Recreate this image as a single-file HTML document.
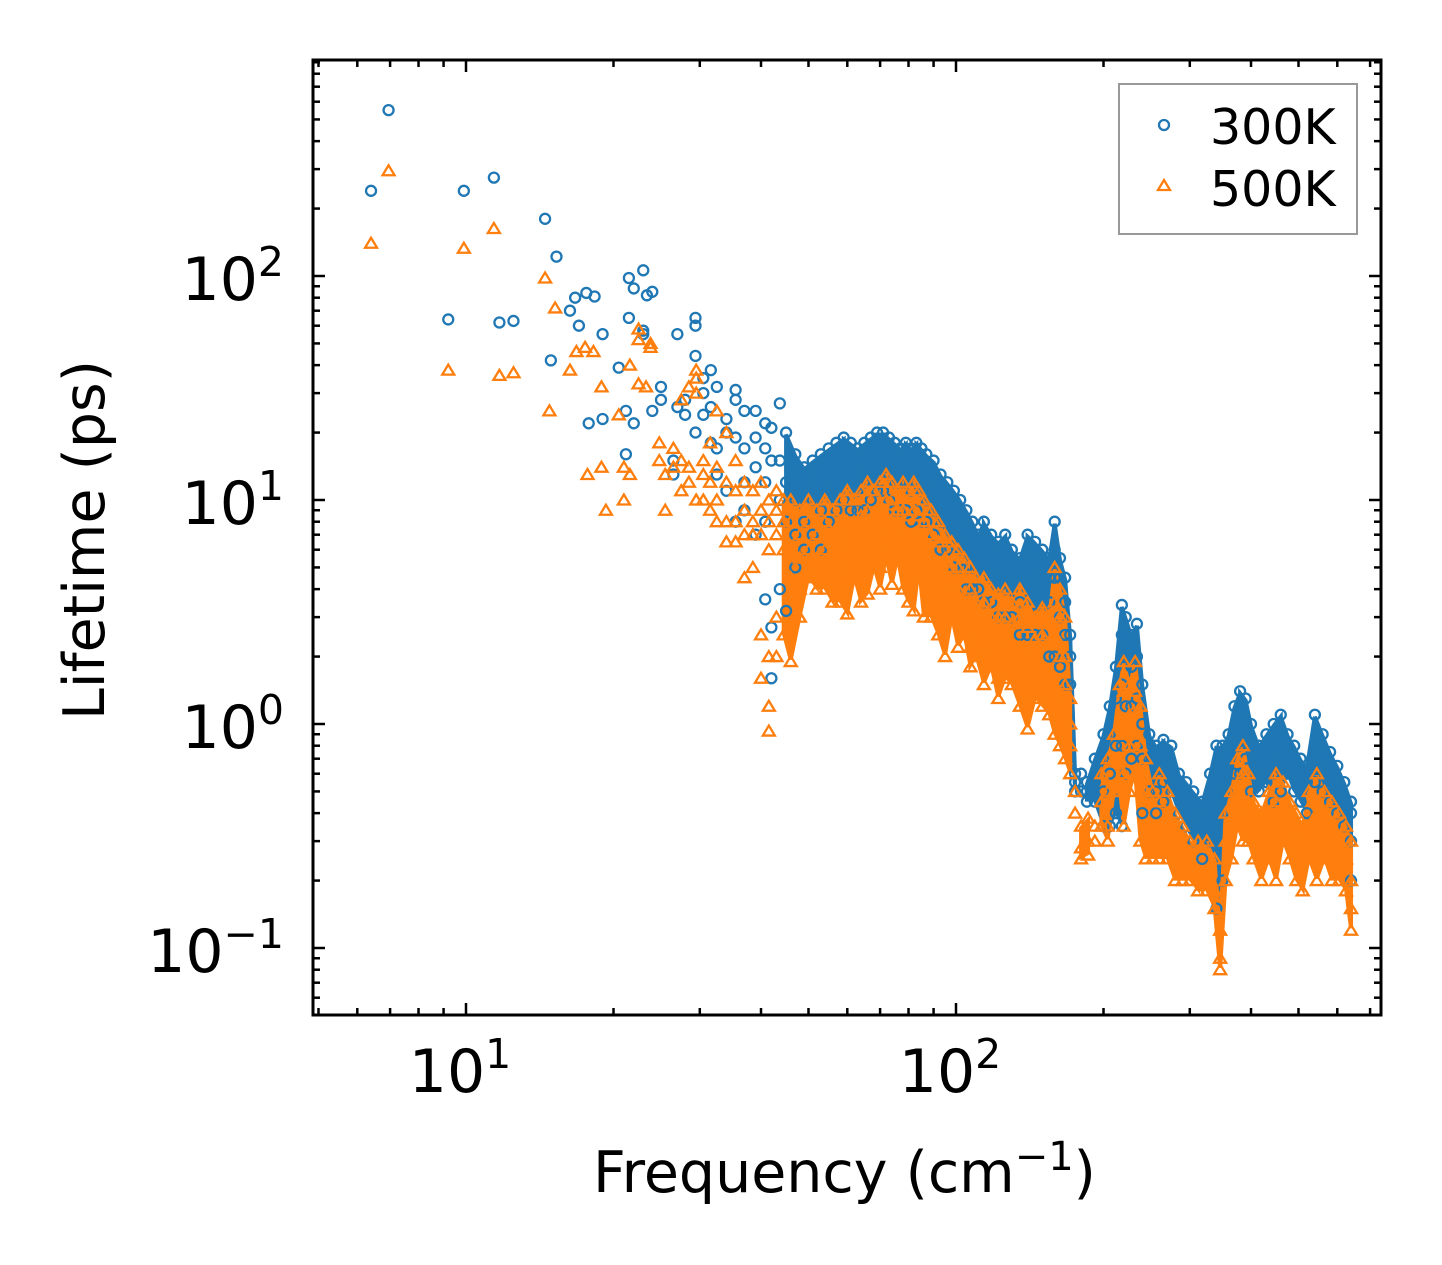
<!DOCTYPE html>
<html><head><meta charset="utf-8"><style>
body{margin:0;background:#fff}
svg{display:block}
text{font-family:"DejaVu Sans","Liberation Sans",sans-serif;fill:#000}
</style></head><body>
<svg id="chart" width="1442" height="1265" viewBox="0 0 1442 1265" xmlns="http://www.w3.org/2000/svg">
<rect width="1442" height="1265" fill="#fff"/>
<g id="bands"></g>
<g id="marks"></g>
<g id="axes"></g>
<g id="legend">
<rect x="1119" y="84" width="238" height="150" fill="#fff" stroke="#999" stroke-width="2"/>
<circle cx="1164" cy="125" r="5" fill="none" stroke="#1f77b4" stroke-width="2.3"/>
<text x="1210" y="144" font-size="49">300K</text>
<path d="M1158 190 L1170 190 L1164 180 Z" fill="none" stroke="#ff7f0e" stroke-width="2.3"/>
<text x="1210" y="206" font-size="49">500K</text>
</g>
<text x="593" y="1192" font-size="57">Frequency (cm<tspan dy="-22" font-size="40">−1</tspan><tspan dy="22">)</tspan></text>
<text transform="translate(104,540) rotate(-90)" font-size="57" text-anchor="middle">Lifetime (ps)</text>
</svg>
<script>
const xTickValues = [10, 100];
const xTickExps = ["1", "2"];
const yTickValues = [0.1, 1, 10, 100];
const yTickExps = ["−1", "0", "1", "2"];

const freq300 = [6.4,6.95,9.2,9.9,11.4,11.7,12.5,14.5,14.9,15.3,16.3,16.7,17,17.6,17.8,18.3,19,20.5,21.2,21.5,22,23,23.4,24,25,26.5,27,28,29.4,30.5,31.6,32.5,34,35.5,37,39,40.8,42,43.7,45,47,49,51,53,55,57,59,61,63,65,67,69,71,73,75,77,79,81,83,85,87,90,93,96,99,102,105,108,111,114,118,122,126,130,135,140,145,150,155,159,163,167,171,175,180,185,192,200,206,212,218,222,228,234,240,248,256,265,275,285,295,305,318,330,340,350,360,370,380,390,400,415,430,445,460,475,490,505,520,540,560,580,600,620,640];
const life300 = [[240],[550],[64],[240],[275],[62],[63],[180],[42],[122],[70],[80],[60],[84],[22],[81],[23,55],[39],[16,25],[98,65],[22,88],[106,57,55],[82],[85,25],[28,32],[13,15],[55,26],[28,24],[60,65,44,20],[30,35,24],[26,38,18],[32,17,13],[20,23,11],[31,19,28,8],[12,17,25,9],[25,19,14,7],[17,22,12,8,3.6],[2.7,1.6,21,15],[15,27,10,4],[3.2,20,12,8],[12,16,10,7,5],[14,11,8,6],[15,12,10,7],[16,13,9,6],[17,14,11,8],[18,15,12,9],[19,16,13,10],[18,15,12,9],[17,14,11,9],[18,15,12,9],[19,16,13,10],[20,17,14,11],[20,17,14,11],[19,16,13,10],[18,15,12,9],[17,14,12,9],[18,15,12,9],[17,14,11,8],[18,15,12,9],[17,14,11,8],[16,13,10,8],[15,12,9,7],[13,11,8,6],[12,10,8,6],[11,9,7,5],[10,8,6,5],[9,7,5,4],[8,6,5,4],[7,6,5,4],[8,6,5,3.5],[7,6,4.5,3.5],[6.5,5.5,4.5,3],[7,5.5,4,3],[6,5,4,3],[5.5,4.5,3.5,2.5],[7,5,4,2.5],[6.5,5,3.5,2.5],[6,5,4,2.5],[5.5,4.5,3.5,2],[8,6,4.5,2],[5.5,4.5,3,1.8],[4.5,3.5,2.5,1.5],[2.5,2,1.5],[0.6,0.55,0.5],[0.6,0.5],[0.55,0.5,0.45],[0.7,0.55,0.45],[0.9,0.7,0.5,0.35],[1.2,0.9,0.6,0.35],[1.8,1.3,0.8,0.4],[3.4,2.5,1.5,0.8,0.35],[3,2,1.2,0.6],[2.5,1.8,1.2,0.7],[2.8,2,1.3,0.8],[1.5,1,0.7,0.4],[0.9,0.7,0.5],[0.8,0.65,0.5,0.4],[0.85,0.7,0.55,0.45],[0.8,0.65,0.5],[0.6,0.5,0.4],[0.55,0.45,0.35],[0.5,0.4,0.3],[0.45,0.35,0.25],[0.6,0.45,0.3],[0.8,0.6,0.3,0.15],[0.8,0.6,0.4,0.2],[0.9,0.7,0.5],[1.2,0.9,0.6],[1.4,1.1,0.8,0.6],[1.3,1,0.7],[1,0.8,0.6,0.5],[0.8,0.65,0.5],[0.9,0.7,0.55],[1,0.8,0.6,0.45],[1.1,0.85,0.65,0.5],[0.9,0.75,0.6],[0.8,0.65,0.5],[0.7,0.6,0.45],[0.65,0.55,0.4],[1.1,0.7,0.55],[0.9,0.7,0.5],[0.75,0.6,0.45],[0.65,0.5,0.4],[0.55,0.45,0.35],[0.45,0.4,0.3,0.2]];

const freq500 = [6.4,6.95,9.2,9.9,11.4,11.7,12.5,14.5,14.8,15.2,16.3,16.8,17.5,17.7,18.2,18.9,19.3,20.5,21,21.6,22.5,23.3,23.8,24.8,25.5,26.5,27.5,28.5,29.5,30.5,31.5,32.5,34,35.5,37,38.5,40,41.5,43,44.5,46,48,50,52,54,56,58,60,62,64,66,68,70,72,74,76,78,80,82,84,86,89,92,95,98,101,104,107,110,114,118,122,126,130,135,140,145,150,155,159,163,167,171,175,180,186,192,198,204,210,216,220,226,232,238,244,252,260,270,280,290,300,312,325,337,346,355,365,375,385,395,405,420,435,450,465,480,495,510,525,545,565,585,605,625,640];
const life500 = [[140],[295],[38],[133],[163],[36],[37],[98],[25],[72],[38],[46],[48],[13],[46],[14,32],[9],[24],[10,14],[40,13],[33,58,52],[32],[50,48],[15,18],[9,13],[14,17],[28,15,11],[32,14,12],[38,35,30,10],[15,13,10],[18,12,9],[25,14,10,8],[20,12,8,6.5],[15,11,8,6.5],[12,9,7,4.5],[11,8,7,5],[12,9,7,2.5,1.6],[10,8,6,2,1.2,0.93],[11,9,7,3,2],[10,8,6,2.5],[10,8,6,4.5,1.9],[9,7,5.5,4,3],[10,8,6,4.5],[9,7,5.5,4],[10,8,6,4],[9,7,5.5,4.5,3.5],[10,8,6,4.5,3.5],[11,8,6,4.5,3.1],[10,8,6,4.5],[11,8.5,6.5,4.5,3.5],[12,9,7,5,3.8],[11,8.5,6.5,5],[12,9,7,5,4],[13,10,7.5,5.5],[12,9.5,7,5.5,4.2],[11,9,7,5.5],[12,9,7,5.5,4],[11,8.5,6.5,5,3.5],[12,9,7,5,3.2],[11,8.5,6.5,5],[10,8,6,4.5,3],[9,7,5.5,4,3],[8,6.5,5,3.5,2.5],[7,5.5,4,3,2],[6.5,5,4,3],[6,5,4,3,2.2],[5.5,4.5,3.5,2.5],[5,4,3,2.2,1.8],[4.5,3.5,2.8,2],[4.5,3.5,2.8,2,1.5],[4,3,2.5,1.8],[3.8,3,2.3,1.6,1.3],[4,3,2.3,1.6],[3.5,2.8,2.2,1.5],[4,3,2.2,1.6,1.2],[3.5,2.7,2,1.3,0.95],[3,2.4,1.8,1.3],[3.3,2.5,1.8,1.2],[3,2.3,1.7,1.1],[5,3.5,2.5,1.5,0.9],[4,3,2,1.3,0.8],[3,2,1.5,1,0.7],[1.3,1,0.8,0.6],[0.5,0.4],[0.35,0.28,0.25],[0.38,0.3,0.26],[0.35,0.3],[0.6,0.45,0.35],[0.7,0.5,0.35,0.3],[0.9,0.7,0.5],[1.5,1,0.7,0.5],[1.9,1.4,0.9,0.6,0.35],[1.5,1.1,0.8,0.5],[1.9,1.4,0.9,0.6],[1.2,0.8,0.5,0.3],[0.7,0.5,0.35,0.25],[0.5,0.35,0.25],[0.6,0.45,0.35,0.25],[0.5,0.35,0.25],[0.4,0.3,0.2],[0.35,0.28,0.2],[0.3,0.25,0.2],[0.3,0.22,0.18],[0.3,0.22,0.18],[0.25,0.18,0.15],[0.12,0.09,0.08],[0.4,0.3,0.2],[0.5,0.35,0.25],[0.7,0.5,0.35],[0.8,0.6,0.4,0.3],[0.6,0.45,0.3],[0.45,0.35,0.25],[0.4,0.3,0.2],[0.5,0.35,0.25],[0.6,0.45,0.3,0.2],[0.55,0.4,0.3],[0.45,0.35,0.25],[0.4,0.3,0.2],[0.35,0.25,0.18],[0.5,0.35,0.25],[0.6,0.4,0.3,0.2],[0.5,0.35,0.25],[0.45,0.3,0.2],[0.4,0.3,0.2],[0.35,0.25,0.18],[0.3,0.2,0.15,0.12]];

const NS = "http://www.w3.org/2000/svg";
const L = 313, R = 1381, T = 60, B = 1015;
const X10 = 466, XDEC = 490, Y100 = 276, YDEC = 224;
function xs(v){ return X10 + (Math.log10(v) - 1) * XDEC; }
function ys(v){ return Y100 - (Math.log10(v) - 2) * YDEC; }
function mk(tag, attrs, parent){
  const e = document.createElementNS(NS, tag);
  for (const k in attrs) e.setAttribute(k, attrs[k]);
  parent.appendChild(e); return e;
}
const bands = document.getElementById('bands');
const marks = document.getElementById('marks');
const axes = document.getElementById('axes');

function drawBands(freqs, lives, color, name){
  for (let i = 0; i + 1 < freqs.length; i++){
    const a = lives[i], b = lives[i+1];
    if (freqs[i] < 44 || a.length < 3 || b.length < 3) continue;
    if (Math.abs(Math.log10(freqs[i+1]/freqs[i])) > 0.05) continue;
    const x0 = xs(freqs[i]), x1 = xs(freqs[i+1]);
    const h0 = ys(Math.max(...a)) + 2, l0 = ys(Math.min(...a)) - 2;
    const h1 = ys(Math.max(...b)) + 2, l1 = ys(Math.min(...b)) - 2;
    const p = mk('polygon', {points: `${x0},${h0} ${x1},${h1} ${x1},${l1} ${x0},${l0}`, fill: color, stroke: color, 'stroke-width': 4}, bands);
    
    
  }
}
function drawSeries(freqs, lives, color, shape, name){
  for (let i = 0; i < freqs.length; i++){
    for (const v of lives[i]){
      const cx = xs(freqs[i]), cy = ys(v);
      let m;
      if (shape === 'circle') m = mk('circle', {cx: cx, cy: cy, r: 5, fill: 'none', stroke: color, 'stroke-width': 2.3}, marks);
      else m = mk('path', {d: `M${cx-6} ${cy+4.5} L${cx+6} ${cy+4.5} L${cx} ${cy-5.5} Z`, fill: 'none', stroke: color, 'stroke-width': 2.3}, marks);
      
      
    }
  }
}
drawBands(freq300, life300, '#1f77b4', 'cloud-300k');
drawSeries(freq300, life300, '#1f77b4', 'circle', 'point-300k');
drawBands(freq500, life500, '#ff7f0e', 'cloud-500k');
drawSeries(freq500, life500, '#ff7f0e', 'triangle', 'point-500k');

const frame = mk('rect', {x: L, y: T, width: R - L, height: B - T, fill: 'none', stroke: '#000', 'stroke-width': 3}, axes);



for (let d = 0; d <= 2; d++){
  for (let k = 1; k <= 9; k++){
    const v = k * Math.pow(10, d);
    const x = xs(v);
    if (x < L || x > R) continue;
    const len = k === 1 ? 12 : 7;
    const t1 = mk('line', {x1: x, x2: x, y1: B, y2: B - len, stroke: '#000', 'stroke-width': 2.5}, axes);
    
    
    const t2 = mk('line', {x1: x, x2: x, y1: T, y2: T + len, stroke: '#000', 'stroke-width': 2.5}, axes);
    
    
  }
}
xTickValues.forEach((v, i) => {
  const t = mk('text', {x: xs(v) - 6, y: 1092, 'font-size': 60, 'text-anchor': 'middle'}, axes);
  t.innerHTML = `10<tspan dy="-24" font-size="41">${xTickExps[i]}</tspan>`;
  
  
});
for (let d = -2; d <= 2; d++){
  for (let k = 1; k <= 9; k++){
    const v = k * Math.pow(10, d);
    const y = ys(v);
    if (y < T || y > B) continue;
    const len = k === 1 ? 12 : 7;
    const t1 = mk('line', {x1: L, x2: L + len, y1: y, y2: y, stroke: '#000', 'stroke-width': 2.5}, axes);
    
    
    const t2 = mk('line', {x1: R, x2: R - len, y1: y, y2: y, stroke: '#000', 'stroke-width': 2.5}, axes);
    
    
  }
}
yTickValues.forEach((v, i) => {
  const t = mk('text', {x: 284, y: ys(v) + 24, 'font-size': 60, 'text-anchor': 'end'}, axes);
  t.innerHTML = `10<tspan dy="-24" font-size="41">${yTickExps[i]}</tspan>`;
  
  
});
</script>
</body></html>
